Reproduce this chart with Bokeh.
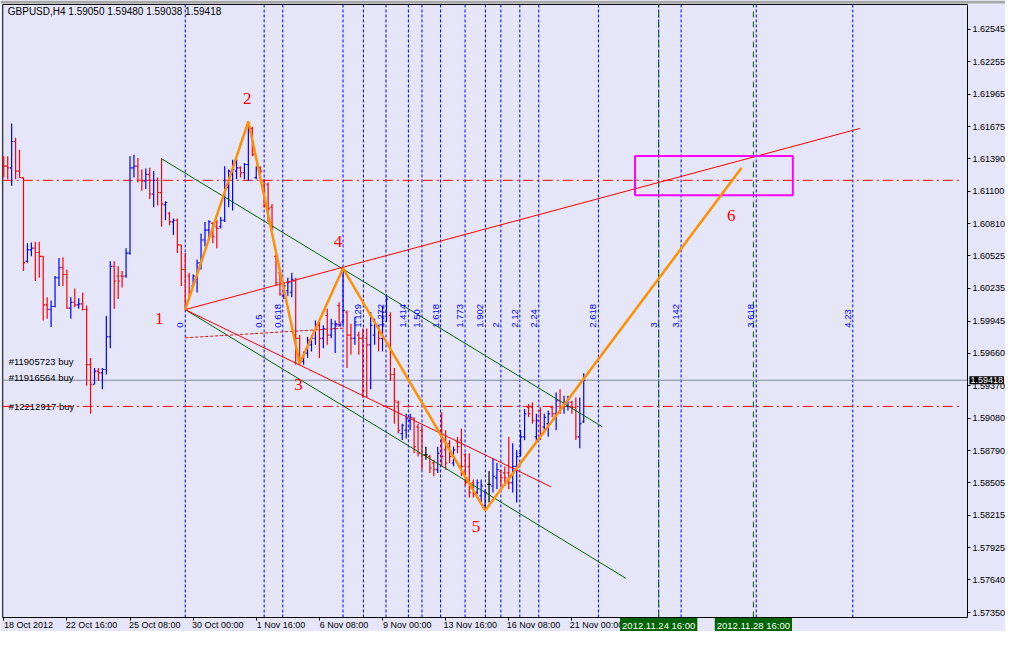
import math
from bokeh.plotting import figure
from bokeh.models import (Range1d, FixedTicker, Label, ColumnDataSource, NumeralTickFormatter,
                          LinearAxis, BoxAnnotation)
from bokeh.embed import file_html
from bokeh.resources import INLINE
from bokeh.core.properties import value

# ---------------- data ----------------
symbol_header = "GBPUSD,H4  1.59050 1.59480 1.59038 1.59418"

opens = [1.61397,1.61324,1.61309,1.61543,1.61280,1.61222,1.60477,1.60579,1.60594,1.60556,
         1.60521,1.60089,1.60048,1.60074,1.60331,1.60419,1.60360,1.60060,1.60112,1.60089,
         1.60098,1.60048,1.59557,1.59382,1.59499,1.59484,1.59514,1.59805,1.60433,1.60346,
         1.60346,1.60346,1.60550,1.61309,1.61324,1.61198,1.61193,1.61251,1.61076,1.61198,
         1.61090,1.60982,1.60901,1.60828,1.60842,1.60623,1.60404,1.60346,1.60258,1.60317,
         1.60463,1.60667,1.60755,1.60813,1.60784,1.60784,1.60842,1.61134,1.61251,1.61280,
         1.61309,1.61266,1.61339,1.61660,1.61222,1.61309,1.61193,1.61163,1.60959,1.60521,
         1.60375,1.60171,1.60215,1.60200,1.60302,1.59791,1.59587,1.59660,1.59733,1.59791,
         1.59907,1.59791,1.59995,1.59820,1.59878,1.60083,1.59937,1.60025,1.59820,1.59791,
         1.59820,1.59791,1.59791,1.59733,1.59820,1.59893,1.59791,1.60025,1.59995,1.59469,
         1.59221,1.58943,1.58973,1.59060,1.59075,1.59002,1.58973,1.58754,1.58739,1.58681,
         1.58622,1.58973,1.58797,1.58856,1.58681,1.58870,1.58885,1.58754,1.58651,1.58505,
         1.58418,1.58389,1.58301,1.58491,1.58476,1.58549,1.58608,1.58593,1.58593,1.58505,
         1.58651,1.58768,1.58914,1.59177,1.59177,1.58914,1.59148,1.59002,1.59031,1.59177,
         1.59119,1.59235,1.59177,1.59192,1.59221,1.59177,1.58914,1.59050]
highs = [1.61412,1.61412,1.61704,1.61578,1.61470,1.61222,1.60638,1.60644,1.60652,1.60652,
         1.60521,1.60156,1.60127,1.60346,1.60506,1.60512,1.60404,1.60156,1.60235,1.60147,
         1.60200,1.60083,1.59616,1.59528,1.59528,1.59528,1.59990,1.60477,1.60477,1.60433,
         1.60390,1.60594,1.61412,1.61426,1.61397,1.61295,1.61304,1.61309,1.61280,1.61222,
         1.61397,1.61012,1.60915,1.60857,1.60857,1.60623,1.60550,1.60375,1.60360,1.60492,
         1.60725,1.60828,1.60842,1.60828,1.60842,1.60871,1.61324,1.61295,1.61382,1.61382,
         1.61324,1.61353,1.61718,1.61674,1.61324,1.61324,1.61207,1.61178,1.60988,1.60550,
         1.60404,1.60287,1.60331,1.60375,1.60331,1.59820,1.59674,1.59805,1.59820,1.59951,
         1.59937,1.59907,1.60054,1.59966,1.59951,1.60112,1.60413,1.60039,1.59922,1.59981,
         1.59849,1.59878,1.59878,1.60025,1.59966,1.59907,1.60083,1.60185,1.60024,1.59527,
         1.59235,1.59031,1.59119,1.59119,1.59089,1.59031,1.59002,1.58827,1.58754,1.58710,
         1.58827,1.59133,1.58973,1.58885,1.58827,1.58914,1.58987,1.58768,1.58768,1.58535,
         1.58535,1.58535,1.58447,1.58608,1.58724,1.58681,1.58622,1.58651,1.58914,1.58856,
         1.58797,1.58973,1.59162,1.59206,1.59221,1.59119,1.59177,1.59119,1.59148,1.59192,
         1.59308,1.59338,1.59279,1.59279,1.59235,1.59265,1.59265,1.59480]
lows = [1.61222,1.61207,1.61149,1.61207,1.61222,1.60390,1.60463,1.60521,1.60302,1.60331,
        1.59951,1.59966,1.59893,1.60068,1.60258,1.60258,1.60054,1.59966,1.60068,1.60054,
        1.60039,1.59368,1.59119,1.59382,1.59411,1.59338,1.59470,1.59703,1.60054,1.60141,
        1.60244,1.60331,1.60536,1.61222,1.61178,1.61105,1.61120,1.61032,1.60959,1.60974,
        1.60784,1.60842,1.60798,1.60711,1.60550,1.60258,1.60048,1.60141,1.60244,1.60200,
        1.60404,1.60609,1.60667,1.60638,1.60594,1.60769,1.60828,1.60959,1.60930,1.61207,
        1.61222,1.61207,1.61193,1.61412,1.61207,1.61251,1.60959,1.60828,1.60755,1.60258,
        1.60171,1.60141,1.60171,1.60156,1.59557,1.59557,1.59557,1.59616,1.59674,1.59733,
        1.59616,1.59703,1.59733,1.59791,1.59660,1.59893,1.59907,1.59528,1.59645,1.59733,
        1.59645,1.59265,1.59265,1.59338,1.59733,1.59674,1.59674,1.59937,1.59411,1.59031,
        1.58943,1.58885,1.58900,1.58973,1.58768,1.58739,1.58622,1.58710,1.58593,1.58564,
        1.58593,1.58651,1.58622,1.58681,1.58651,1.58768,1.58564,1.58476,1.58374,1.58374,
        1.58403,1.58330,1.58257,1.58330,1.58418,1.58447,1.58476,1.58476,1.58447,1.58418,
        1.58330,1.58739,1.58885,1.59089,1.59031,1.58856,1.58885,1.58973,1.58914,1.59089,
        1.58973,1.59119,1.59119,1.59148,1.59119,1.58885,1.58812,1.59038]
closes = [1.61324,1.61309,1.61543,1.61280,1.61222,1.60463,1.60579,1.60594,1.60556,1.60521,
          1.60089,1.60048,1.60074,1.60331,1.60419,1.60360,1.60060,1.60112,1.60089,1.60098,
          1.60048,1.59557,1.59382,1.59499,1.59484,1.59514,1.59805,1.60433,1.60302,1.60302,
          1.60340,1.60550,1.61309,1.61324,1.61198,1.61193,1.61251,1.61076,1.61198,1.61090,
          1.60988,1.61000,1.60828,1.60842,1.60623,1.60404,1.60083,1.60200,1.60346,1.60463,
          1.60667,1.60755,1.60828,1.60696,1.60769,1.60842,1.61134,1.61280,1.61295,1.61309,
          1.61266,1.61339,1.61674,1.61426,1.61309,1.61280,1.60974,1.60944,1.60784,1.60287,
          1.60185,1.60258,1.60287,1.60317,1.59791,1.59587,1.59660,1.59776,1.59791,1.59907,
          1.59791,1.59878,1.59820,1.59922,1.59922,1.59907,1.60039,1.59820,1.59791,1.59937,
          1.59791,1.59324,1.59733,1.59907,1.59907,1.59791,1.60025,1.60141,1.59469,1.59235,
          1.58973,1.59016,1.59075,1.59089,1.58827,1.58768,1.58754,1.58754,1.58637,1.58622,
          1.58768,1.58739,1.58681,1.58739,1.58797,1.58827,1.58651,1.58505,1.58418,1.58403,
          1.58505,1.58476,1.58418,1.58491,1.58564,1.58622,1.58549,1.58549,1.58505,1.58651,
          1.58739,1.58914,1.59119,1.59119,1.59060,1.59060,1.58943,1.59089,1.59119,1.59119,
          1.59235,1.59177,1.59221,1.59250,1.59177,1.58914,1.59031,1.59418]

x_tick_bars = [0, 16, 32, 48, 64, 80, 96, 112, 128, 144]
x_tick_labels = ["18 Oct 2012", "22 Oct 16:00", "25 Oct 08:00", "30 Oct 00:00", "1 Nov 16:00",
                 "6 Nov 08:00", "9 Nov 00:00", "13 Nov 16:00", "16 Nov 08:00", "21 Nov 00:00"]
y_ticks = [1.62545, 1.62255, 1.61965, 1.61675, 1.61390, 1.61100, 1.60810, 1.60525, 1.60235,
           1.59945, 1.59660, 1.59370, 1.59080, 1.58790, 1.58505, 1.58215, 1.57925, 1.57640, 1.57350]

# zigzag pivots 1..6
zz_bar = [46, 62, 75, 86, 122, 187]
zz_price = [1.60047, 1.61722, 1.59565, 1.60415, 1.58259, 1.61309]
zz_names = ["1", "2", "3", "4", "5", "6"]
zz_label_bar = [39.4, 61.7, 74.7, 84.7, 119.7, 184.4]
zz_label_price = [1.59966, 1.61923, 1.59381, 1.60652, 1.58119, 1.60888]

# Fibonacci time zones
fib_start_bar = 46
fib_unit_bars = 40
fib_ratios = [0, 0.5, 0.618, 1, 1.129, 1.272, 1.414, 1.50, 1.618, 1.773, 1.902, 2,
              2.12, 2.24, 2.618, 3, 3.142, 3.618, 4.23]
fib_texts = ["0", "0.5", "0.618", "1", "1.129", "1.272", "1.414", "1.50", "1.618", "1.773",
             "1.902", "2", "2.12", "2.24", "2.618", "3", "3.142", "3.618", "4.23"]
fib_label_price = 1.59885

# trend / channel lines (bar, price)
red_upper = ([46, 217], [1.60047, 1.61660])
red_lower = ([46, 138.7], [1.60047, 1.58469])
red_dashed = ([46, 86], [1.59796, 1.59881])
green_upper = ([40, 151.7], [1.61390, 1.59004])
green_lower = ([46, 157.7], [1.60047, 1.57654])

# horizontal levels
bid_price = 1.59418
order_levels = [1.61198, 1.59185]
order_texts = ["#11905723 buy", "#11916564 buy", "#12212917 buy"]
order_text_price = [1.59582, 1.59442, 1.59185]

# target box
box_bars = [160, 200]
box_prices = [1.61064, 1.61414]

# vertical time lines
vline_bars = [166, 190]
vline_texts = ["2012.11.24 16:00", "2012.11.28 16:00"]

# ---------------- geometry ----------------
BG = "#E6E6FA"
FONT = "Liberation Sans"
# chart frame (bars / prices)
fx0, fx1 = -0.25, 244.25
fy0, fy1 = 1.57306, 1.62764
# whole canvas in the same units (axes live in the margin strips)
cx0, cx1 = -0.825, 253.9
cy0, cy1 = 1.57181, 1.62799
label_shift = 6.25   # x-axis labels start at their tick

p = figure(width=1005, height=631, x_range=Range1d(cx0, cx1), y_range=Range1d(cy0, cy1),
           x_axis_location=None, y_axis_location=None,
           toolbar_location=None, output_backend="svg",
           background_fill_color=BG, border_fill_color=BG,
           min_border_left=0, min_border_top=0, min_border_bottom=0, min_border_right=0)
p.xgrid.visible = False
p.ygrid.visible = False
p.outline_line_color = None

# top window strip
p.add_layout(BoxAnnotation(bottom=1.62773, fill_color="#A8A8A8", fill_alpha=1, line_color=None))


def style_axis(ax):
    ax.axis_line_color = "black"
    ax.major_tick_line_color = "black"
    ax.major_tick_out = 3
    ax.major_tick_in = 0
    ax.minor_tick_line_color = None
    ax.major_label_text_font = FONT
    ax.major_label_text_font_size = "9px"
    ax.major_label_text_color = "black"
    ax.major_label_standoff = 2


# price axis on the right edge of the chart frame
ya = LinearAxis(fixed_location=fx1, bounds=(fy0, fy1), ticker=FixedTicker(ticks=y_ticks),
                formatter=NumeralTickFormatter(format="0.00000"))
style_axis(ya)
p.add_layout(ya, "right")

# time axis: tick marks at the bars
xa = LinearAxis(fixed_location=fy0, bounds=(fx0, fx1), ticker=FixedTicker(ticks=x_tick_bars),
                major_label_overrides={b: "" for b in x_tick_bars})
style_axis(xa)
xa.major_label_text_font_size = "0px"
p.add_layout(xa, "below")
# time axis labels, starting at each tick
lab_ticks = [b + label_shift for b in x_tick_bars]
xl = LinearAxis(fixed_location=fy0, ticker=FixedTicker(ticks=lab_ticks),
                major_label_overrides={t: s for t, s in zip(lab_ticks, x_tick_labels)})
style_axis(xl)
xl.axis_line_color = None
xl.major_tick_line_color = None
xl.major_tick_out = 0
xl.major_label_standoff = 3
p.add_layout(xl, "below")

# left and top frame edges
p.segment(x0=[fx0, fx0], y0=[fy0, fy1], x1=[fx0, fx1], y1=[fy1, fy1], line_color="black", line_width=1)

# fib time zone lines
fib_x = [fib_start_bar + fib_unit_bars * r for r in fib_ratios]
p.segment(x0=fib_x, y0=[fy0] * len(fib_x), x1=fib_x, y1=[fy1] * len(fib_x),
          line_color="#0000FF", line_width=1, line_dash="3 2")
p.segment(x0=vline_bars, y0=[fy0] * 2, x1=vline_bars, y1=[fy1] * 2,
          line_color="#006400", line_width=1, line_dash="6 4")

# horizontal lines
p.segment(x0=[fx0] * 2, y0=order_levels, x1=[fx1 - 2] * 2, y1=order_levels,
          line_color="#FF0000", line_width=1, line_dash="10 4 2 4")
p.segment(x0=[fx0], y0=[bid_price], x1=[fx1], y1=[bid_price], line_color="#7F8A9C", line_width=1)

# bars
n = len(opens)
xs = list(range(n))
colors = ["#0000FF" if c > o else ("#FF0000" if c < o else "#000000") for o, c in zip(opens, closes)]
src = ColumnDataSource(dict(x=xs, o=opens, h=highs, l=lows, c=closes, color=colors,
                            xl=[x - 0.45 for x in xs], xr=[x + 0.45 for x in xs]))
p.segment(x0="x", y0="l", x1="x", y1="h", color="color", line_width=1.2, source=src)
p.segment(x0="xl", y0="o", x1="x", y1="o", color="color", line_width=1.1, source=src)
p.segment(x0="x", y0="c", x1="xr", y1="c", color="color", line_width=1.1, source=src)

# channel and trend lines
p.line(green_upper[0], green_upper[1], line_color="#006400", line_width=1)
p.line(green_lower[0], green_lower[1], line_color="#006400", line_width=1)
p.line(red_upper[0], red_upper[1], line_color="#FF0000", line_width=1)
p.line(red_lower[0], red_lower[1], line_color="#FF0000", line_width=1)
p.line(red_dashed[0], red_dashed[1], line_color="#FF0000", line_width=1, line_dash="3 2")

# target box
p.quad(left=box_bars[0], right=box_bars[1], bottom=box_prices[0], top=box_prices[1],
       fill_color=None, line_color="#FF00FF", line_width=2)

# zigzag
p.line(zz_bar, zz_price, line_color="#FF9100", line_width=2.5)
p.text(x=zz_label_bar, y=zz_label_price, text=zz_names, text_color="#FF0000",
       text_font=value("Liberation Serif"), text_font_size="17px",
       text_align="center", text_baseline="middle")

# fib labels (rotated)
p.text(x=fib_x, y=[fib_label_price] * len(fib_x), text=fib_texts, angle=math.pi / 2,
       text_align="left", text_baseline="bottom", x_offset=-2, text_color="#0000FF",
       text_font=value(FONT), text_font_size="9.5px")

# order labels
p.text(x=[1.25] * 3, y=order_text_price, text=order_texts, text_color="black",
       text_font=value(FONT), text_font_size="9.5px", text_baseline="middle", text_align="left")

# header
p.add_layout(Label(x=fx0, y=fy1, x_offset=5, y_offset=-13, text=symbol_header,
                   text_font=FONT, text_font_size="10px", text_color="black",
                   text_baseline="bottom"))

# bid price tag on the price axis
p.add_layout(Label(x=fx1, y=bid_price, x_offset=2, text="1.59418", text_font=FONT,
                   text_font_size="9px", text_color="white", text_baseline="middle",
                   text_align="left", background_fill_color="black", padding=1))

# vertical line time tags on the time axis
for vb, vt in zip(vline_bars, vline_texts):
    p.add_layout(Label(x=vb, y=fy0, y_offset=-8, text=vt, text_font=FONT,
                       text_font_size="9.5px", text_color="white", text_align="center",
                       text_baseline="middle", background_fill_color="#006400", padding=2))

open("out.html", "w").write(file_html(p, INLINE))
